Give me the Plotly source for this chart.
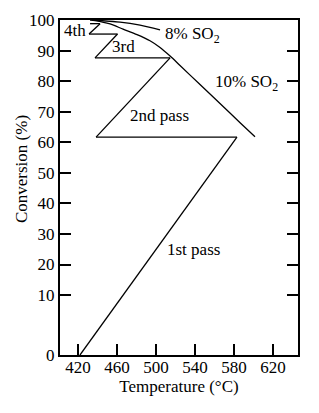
import plotly.graph_objects as go

# ---- data (temperature in °C, conversion in %) ----
pass1_T = [422, 583]
pass1_X = [0, 61.7]
cool1_T = [583, 438.5]
cool1_X = [61.7, 61.7]
pass2_T = [438.5, 514.4]
pass2_X = [61.7, 87.6]
cool2_T = [514.4, 437.4]
cool2_X = [87.6, 87.6]
pass3_T = [437.4, 460.5]
pass3_X = [87.6, 95.4]
cool3_T = [460.5, 431.3]
cool3_X = [95.4, 95.4]
pass4_T = [431.3, 442.6]
pass4_X = [95.4, 98.8]
top4_T = [442.6, 432.3]
top4_X = [98.8, 98.8]

eq10_T = [432.3, 437.4, 452.8, 466.2, 480.5, 493.8, 504.1, 514.4, 524.6, 545.1, 565.6, 586.2, 601.5]
eq10_X = [100.0, 99.8, 98.7, 97.0, 95.2, 93.2, 91.0, 88.2, 85.1, 78.9, 72.7, 66.4, 61.8]
eq8_T = [435.4, 463.1, 483.6, 504.1]
eq8_X = [100.0, 99.3, 98.3, 96.8]

x_ticks = [420, 460, 500, 540, 580, 620]
y_ticks = [0, 10, 20, 30, 40, 50, 60, 70, 80, 90, 100]


def yc(v):
    # broken axis: the 0–10 band is drawn stretched, as in the original figure
    return v if v >= 10 else 10 - (10 - v) * 1.96


FONT = "Liberation Serif"
fig = go.Figure()
segs = [(pass1_T, pass1_X), (cool1_T, cool1_X), (pass2_T, pass2_X), (cool2_T, cool2_X),
        (pass3_T, pass3_X), (cool3_T, cool3_X), (pass4_T, pass4_X), (top4_T, top4_X),
        (eq10_T, eq10_X), (eq8_T, eq8_X)]
for T, X in segs:
    fig.add_trace(go.Scatter(x=T, y=[yc(v) for v in X], mode="lines",
                             line=dict(color="black", width=1.3,
                                       shape="spline" if len(T) > 2 else "linear", smoothing=0.8),
                             showlegend=False, hoverinfo="skip"))

ann = [
    ("4th", 403.6, 96.7),
    ("3rd", 452.8, 91.2),
    ("2nd pass", 471.3, 68.9),
    ("1st pass", 509.2, 25.0),
    ("8% SO<sub>2</sub>", 507.2, 95.2),
    ("10% SO<sub>2</sub>", 558.5, 79.5),
]
for txt, x, y in ann:
    fig.add_annotation(x=x, y=yc(y), text=txt, showarrow=False, xanchor="left", yanchor="middle",
                       font=dict(family=FONT, size=17, color="black"))

# y-axis title placed as rotated text (matches the original's spacing)
fig.add_annotation(x=-0.164, y=0.555, xref="paper", yref="paper", text="Conversion (%)",
                   textangle=-90, showarrow=False, xanchor="center", yanchor="middle",
                   font=dict(family=FONT, size=17, color="black"))

fig.update_layout(
    width=319, height=413,
    margin=dict(l=60, r=21, t=20, b=58),
    plot_bgcolor="white", paper_bgcolor="white",
    font=dict(family=FONT, size=17, color="black"),
)
fig.update_xaxes(range=[401.5, 645.6], tickvals=x_ticks, ticks="inside", ticklen=11, tickwidth=1.5,
                 tickcolor="black", showgrid=False, zeroline=False, showline=True, linecolor="black",
                 linewidth=2, mirror=True, ticklabelstandoff=-4,
                 title=dict(text="Temperature (°C)", font=dict(family=FONT, size=17), standoff=4))
fig.update_yaxes(range=[-9.6, 100], tickvals=[yc(v) for v in y_ticks], ticktext=[str(v) for v in y_ticks],
                 ticks="inside", ticklen=11, tickwidth=1.5, tickcolor="black", showgrid=False,
                 zeroline=False, showline=True, linecolor="black", linewidth=2, mirror="ticks")

fig.write_html("out.html")
